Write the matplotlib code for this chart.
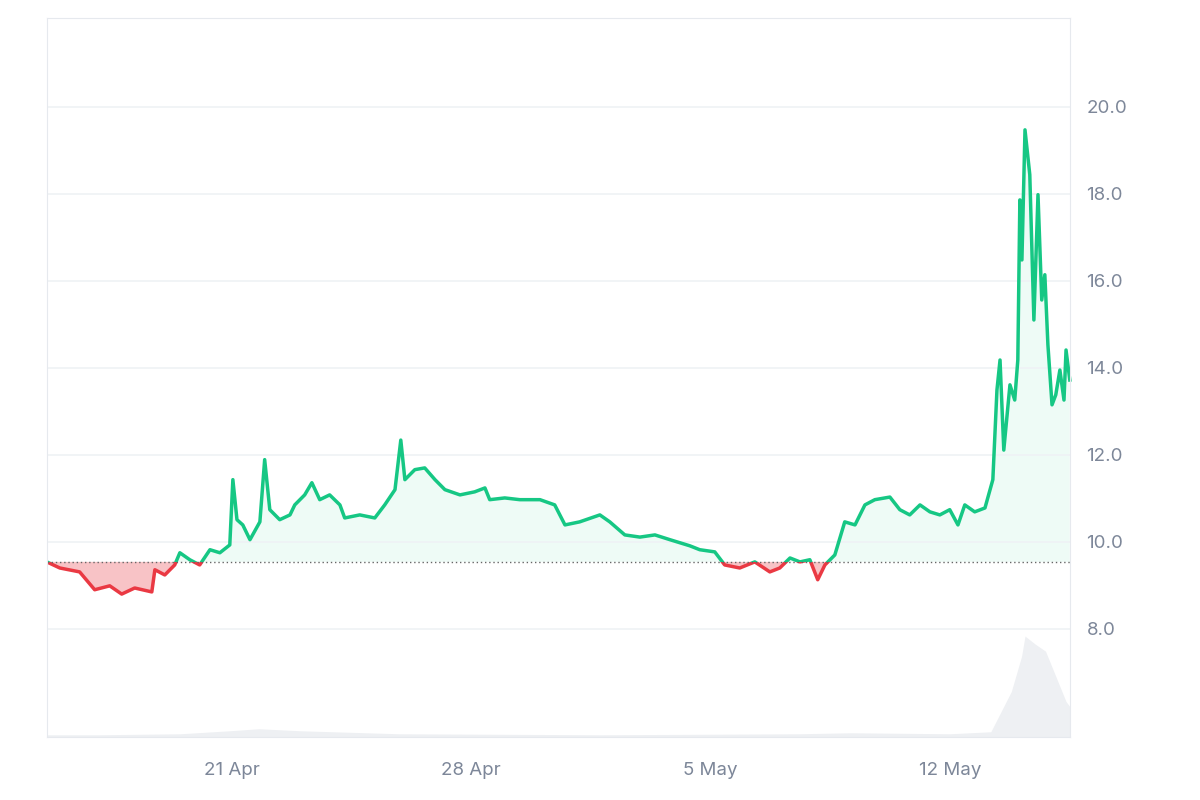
import numpy as np
import matplotlib.pyplot as plt
from matplotlib.patches import Rectangle

plt.rcParams['font.family'] = ['Inter', 'DejaVu Sans']

# days since the chart start (~15.6 Apr)
days = [0, 0.38, 0.96, 1.40, 1.84, 2.19, 2.57, 3.07, 3.16, 3.45, 3.74, 3.89, 4.18, 4.47, 4.77, 5.06,
        5.35, 5.44, 5.56, 5.73, 5.94, 6.23, 6.37, 6.52, 6.81, 7.11, 7.25, 7.54, 7.75, 7.98, 8.27, 8.57,
        8.71, 9.15, 9.59, 9.88, 10.18, 10.35, 10.47, 10.76, 11.05, 11.35, 11.64, 12.08, 12.51, 12.81,
        12.95, 13.39, 13.83, 14.42, 14.85, 15.15, 15.58, 16.17, 16.46, 16.90, 17.34, 17.78, 18.22,
        18.80, 19.09, 19.53, 19.82, 20.26, 20.70, 21.14, 21.43, 21.73, 22.02, 22.31, 22.54, 22.75,
        23.04, 23.33, 23.63, 23.92, 24.21, 24.65, 24.94, 25.23, 25.53, 25.82, 26.11, 26.40, 26.64,
        26.84, 27.13, 27.43, 27.66, 27.78, 27.87, 27.98, 28.16, 28.30, 28.39, 28.45, 28.51, 28.60,
        28.74, 28.86, 28.98, 29.09, 29.18, 29.27, 29.39, 29.50, 29.62, 29.74, 29.80, 29.91]
price = [9.54, 9.40, 9.31, 8.90, 8.99, 8.80, 8.94, 8.85, 9.36, 9.24, 9.47, 9.75, 9.59, 9.47, 9.82, 9.75,
         9.93, 11.43, 10.51, 10.39, 10.05, 10.46, 11.89, 10.74, 10.51, 10.62, 10.85, 11.08, 11.36, 10.97,
         11.08, 10.85, 10.55, 10.62, 10.55, 10.85, 11.20, 12.34, 11.43, 11.66, 11.70, 11.43, 11.20, 11.08,
         11.15, 11.24, 10.97, 11.01, 10.97, 10.97, 10.85, 10.39, 10.46, 10.62, 10.46, 10.16, 10.11, 10.16,
         10.05, 9.91, 9.82, 9.77, 9.47, 9.40, 9.54, 9.31, 9.40, 9.63, 9.54, 9.59, 9.13, 9.47, 9.70, 10.46,
         10.39, 10.85, 10.97, 11.03, 10.74, 10.62, 10.85, 10.69, 10.62, 10.74, 10.39, 10.85, 10.69, 10.78,
         11.43, 13.49, 14.18, 12.11, 13.61, 13.26, 14.18, 17.86, 16.48, 19.47, 18.44, 15.10, 17.98, 15.56,
         16.14, 14.53, 13.15, 13.38, 13.95, 13.26, 14.41, 13.72]
vol_days = [0, 1.5, 3.9, 5.35, 6.2, 7.4, 10.3, 16.2, 22.0, 23.5, 26.4, 27.6, 27.9, 28.2, 28.5, 28.6,
            28.9, 29.2, 29.5, 29.8, 29.91]
volume = [2, 2, 3, 6, 8, 6, 3, 2, 3, 4, 3, 5, 25, 45, 80, 100, 92, 85, 60, 35, 30]
baseline = 9.54
tick_pos = [5.4, 12.4, 19.4, 26.4]
tick_labels = ['21 Apr', '28 Apr', '5 May', '12 May']

green = '#16c784'
red = '#ea3943'
gray = '#7d8799'

fig = plt.figure(figsize=(12, 8), dpi=100)
ax = fig.add_axes([0.039, 0.079, 0.8525, 0.899])
ax.set_xlim(0, 29.91)
ax.set_ylim(5.52, 22.05)

axv = ax.twinx()
axv.set_ylim(0, 714)
axv.fill_between(vol_days, volume, color='#eef0f3', lw=0)
axv.set_yticks([])
axv.set_zorder(0)
ax.set_zorder(1)
ax.patch.set_visible(False)

x = np.array(days)
y = np.array(price)
ax.fill_between(x, y, baseline, where=y >= baseline, interpolate=True, color=green, alpha=0.07, lw=0)
ax.fill_between(x, y, baseline, where=y <= baseline, interpolate=True, color=red, alpha=0.3, lw=0)
top = Rectangle((0, baseline), 40, 30, transform=ax.transData)
bot = Rectangle((0, 0), 40, baseline, transform=ax.transData)
lg, = ax.plot(x, y, color=green, lw=2.5)
lg.set_clip_path(top)
lr, = ax.plot(x, y, color=red, lw=2.5)
lr.set_clip_path(bot)
ax.axhline(baseline, color='#666666', ls=(0, (1, 2)), lw=1)

ax.yaxis.tick_right()
ax.set_yticks([8, 10, 12, 14, 16, 18, 20])
ax.set_yticklabels(['%.1f' % v for v in [8, 10, 12, 14, 16, 18, 20]])
ax.set_xticks(tick_pos)
ax.set_xticklabels(tick_labels)
ax.tick_params(length=0, labelsize=13.5, labelcolor=gray)
ax.tick_params(axis='x', pad=18)
ax.tick_params(axis='y', pad=12)
ax.grid(axis='y', color='#eff2f5', lw=1.2)
for s in ['top', 'left', 'right', 'bottom']:
    ax.spines[s].set_color('#e6e9ee')
for s in axv.spines.values():
    s.set_visible(False)

fig.savefig('out.png')
